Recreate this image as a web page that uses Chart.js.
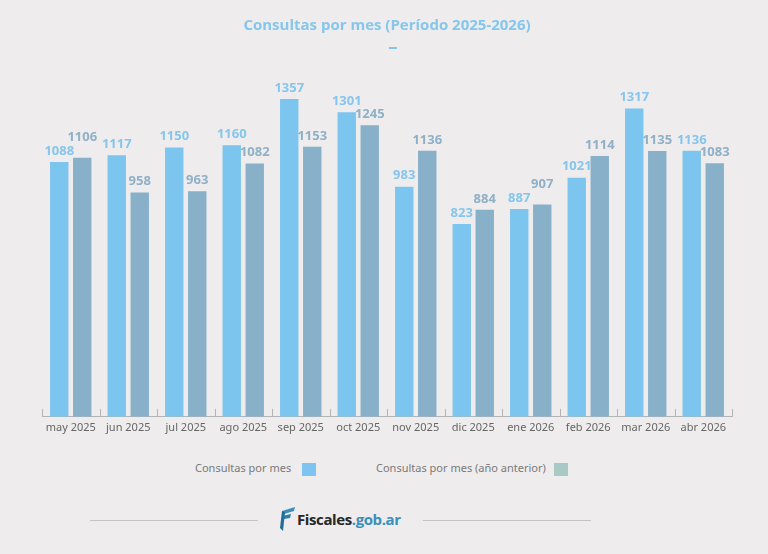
<!DOCTYPE html>
<html>
<head>
<meta charset="utf-8">
<script src="https://cdn.jsdelivr.net/npm/chart.js@4/dist/chart.umd.min.js"></script>
<style>
  html, body { margin: 0; padding: 0; background: #eeeced; }
  body { width: 768px; height: 554px; position: relative; overflow: hidden; font-family: 'Noto Sans', sans-serif; }
  #wrap { position: absolute; left: 0; top: 0; width: 768px; height: 448px; }
  .dash { position: absolute; left: 389px; top: 47px; width: 8px; height: 2px; background: #85c6ec; }
  .legend { position: absolute; top: 460px; font-size: 11px; color: #7a7a7a; line-height: 16px; }
  .legend span.box { display: inline-block; width: 14px; height: 13px; vertical-align: middle; margin-left: 11px; }
  .rule { position: absolute; top: 520px; height: 1px; background: #c4c4c4; }
  .logo { position: absolute; left: 280px; top: 507px; height: 26px; }
  .logo .txt { position: absolute; left: 17px; top: 2px; font-family: 'Open Sans', sans-serif; font-weight: 700; font-size: 15px; letter-spacing: -0.4px; color: #262626; white-space: nowrap; }
  .logo .txt b { color: #3b8fba; font-weight: 700; }
</style>
</head>
<body>
<div id="wrap"><canvas id="consultasChart"></canvas></div>
<div class="dash"></div>

<div class="legend" style="left:195px;">Consultas por mes<span class="box" style="background:#7ec4f0;"></span></div>
<div class="legend" style="left:376px;">Consultas por mes (año anterior)<span class="box" style="background:#a9c9c4;margin-left:8px;"></span></div>

<div class="rule" style="left:90px;width:168px;"></div>
<div class="rule" style="left:423px;width:168px;"></div>
<div class="logo">
  <svg width="16" height="24" viewBox="0 0 16 24" style="position:absolute;left:0;top:0;">
    <polygon points="2,4 15,0 14,4 4,7" fill="#3b8fba"/>
    <polygon points="2,9 11,7 10,11 4,12" fill="#2f7fa8"/>
    <polygon points="2,4 5,5 3,24 0,21" fill="#1f6e96"/>
  </svg>
  <div class="txt">Fiscales<b>.gob.ar</b></div>
</div>

<script>
const months = ['may 2025', 'jun 2025', 'jul 2025', 'ago 2025', 'sep 2025', 'oct 2025',
                'nov 2025', 'dic 2025', 'ene 2026', 'feb 2026', 'mar 2026', 'abr 2026'];
const consultas = [1088, 1117, 1150, 1160, 1357, 1301, 983, 823, 887, 1021, 1317, 1136];
const consultasAnterior = [1106, 958, 963, 1082, 1153, 1245, 1136, 884, 907, 1114, 1135, 1083];

// value labels above each bar; the grey one moves up if it gets too close to the blue one
const barLabels = {
  id: 'barLabels',
  afterDatasetsDraw(chart) {
    const ctx = chart.ctx;
    const colors = ['#86c6ec', '#8fb0c6'];
    const blue = chart.getDatasetMeta(0).data;
    const grey = chart.getDatasetMeta(1).data;
    ctx.save();
    ctx.font = "bold 13px 'Open Sans', sans-serif";
    ctx.textAlign = 'center';
    ctx.textBaseline = 'middle';
    blue.forEach((b, j) => {
      const g = grey[j];
      const by = b.y - 11;
      let gy = g.y - 11;
      const bw = ctx.measureText(consultas[j]).width;
      const gw = ctx.measureText(consultasAnterior[j]).width;
      const hOverlap = (b.x + bw / 2 + 4) > (g.x - gw / 2);
      if (hOverlap && Math.abs(gy - by) < 11) gy = by - 14;
      ctx.fillStyle = colors[0];
      ctx.fillText(consultas[j], b.x, by);
      ctx.fillStyle = colors[1];
      ctx.fillText(consultasAnterior[j], g.x, gy);
    });
    ctx.restore();
  }
};

// small upward ticks between categories
const catTicks = {
  id: 'catTicks',
  afterDraw(chart) {
    const x = chart.scales.x;
    const ctx = chart.ctx;
    const step = (x.right - x.left) / months.length;
    ctx.save();
    ctx.strokeStyle = '#b4b4b4';
    ctx.lineWidth = 1;
    for (let i = 0; i <= months.length; i++) {
      const px = Math.round(x.left + i * step) + 0.5;
      ctx.beginPath();
      ctx.moveTo(px, x.top - 8);
      ctx.lineTo(px, x.top);
      ctx.stroke();
    }
    ctx.restore();
  }
};

new Chart(document.getElementById('consultasChart'), {
  type: 'bar',
  data: {
    labels: months,
    datasets: [{
      label: 'Consultas por mes',
      data: consultas,
      backgroundColor: '#7cc5ee',
      barPercentage: 0.8,
      categoryPercentage: 0.8
    }, {
      label: 'Consultas por mes (año anterior)',
      data: consultasAnterior,
      backgroundColor: '#88b0c9',
      barPercentage: 0.8,
      categoryPercentage: 0.8
    }]
  },
  options: {
    responsive: true,
    maintainAspectRatio: false,
    animation: false,
    layout: { padding: { top: 17, left: 42, right: 36, bottom: 10 } },
    plugins: {
      legend: { display: false },
      tooltip: { enabled: false },
      title: {
        display: true,
        text: 'Consultas por mes (Período 2025-2026)',
        color: '#85c6ec',
        font: { family: "'Open Sans', sans-serif", size: 15, weight: 'bold' },
        padding: { top: 0, bottom: 54 }
      }
    },
    scales: {
      x: {
        grid: { display: false, drawTicks: false, tickLength: 0 },
        border: { display: true, color: '#b4b4b4' },
        ticks: { color: '#666', font: { family: "'Noto Sans', sans-serif", size: 11 }, padding: 4, maxRotation: 0 }
      },
      y: {
        display: false,
        min: 0,
        max: 1400
      }
    }
  },
  plugins: [barLabels, catTicks]
});
</script>
</body>
</html>
